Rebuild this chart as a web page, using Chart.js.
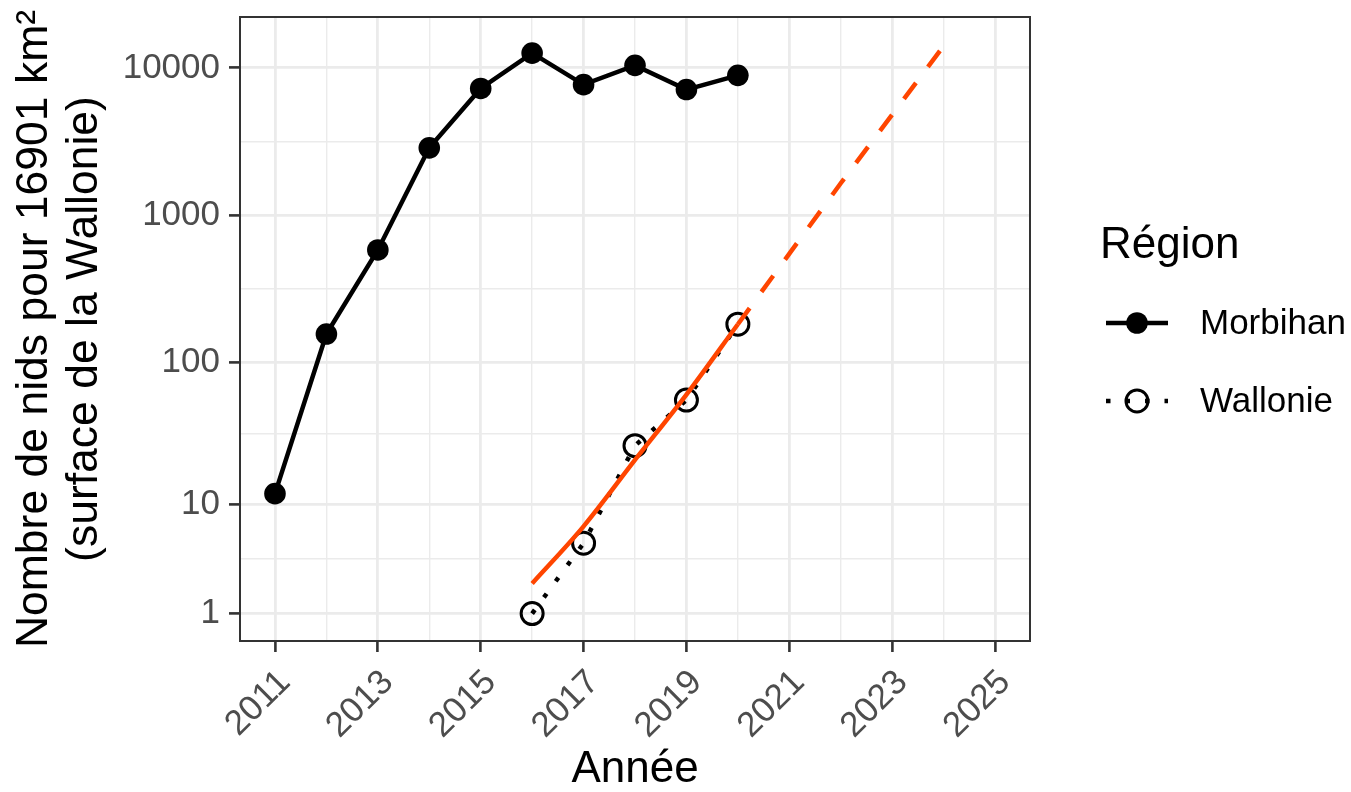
<!DOCTYPE html>
<html>
<head>
<meta charset="utf-8">
<script src="https://cdn.jsdelivr.net/npm/chart.js@4.4.1/dist/chart.umd.min.js"></script>
<style>
  html, body { margin: 0; padding: 0; background: #ffffff; }
  #wrap { width: 1351px; height: 792px; position: relative; }
  canvas { display: block; }
</style>
</head>
<body>
<div id="wrap"><canvas id="chart" width="1351" height="792"></canvas></div>
<script>
// Nests per 16901 km² (area of Wallonia), by year
const morbihanYears = [2011, 2012, 2013, 2014, 2015, 2016, 2017, 2018, 2019, 2020];
const morbihanNests = [12, 156, 582, 2870, 7250, 12600, 7700, 10400, 7130, 8900];

const wallonieYears = [2016, 2017, 2018, 2019, 2020];
const wallonieNests = [1, 5, 26.5, 55, 182];

// Exponential trend fitted on Wallonie, and its projection
const trendYears = [2016, 2017, 2018, 2019, 2020];
const trendNests = [2.2, 6.8, 21, 60, 182];
const projectionYears = [2020, 2022, 2024];
const projectionNests = [182, 1650, 14100];

// Axis breaks
const xMajorYears = [2011, 2013, 2015, 2017, 2019, 2021, 2023, 2025];
const xMinorYears = [2012, 2014, 2016, 2018, 2020, 2022, 2024];
const yBreakValues = [1, 10, 100, 1000, 10000];
const yBreakLabels = ['1', '10', '100', '1000', '10000'];

const seriesNames = ['Morbihan', 'Wallonie'];
const legendTitle = 'Région';
const xTitle = 'Année';
const yTitle = ['Nombre de nids pour 16901 km²', '(surface de la Wallonie)'];

const FONT = '"Liberation Sans", Arial, Helvetica, sans-serif';
const TREND_COLOR = '#FF4500';

// y axis uses a log10(n + 1) transform
const tr = v => Math.log10(v + 1);
const pts = (xs, ys) => xs.map((x, i) => ({ x: x, y: tr(ys[i]) }));

// major breaks plus minor breaks halfway between them (in transformed space)
function yTickObjects() {
  const major = yBreakValues.map((v, i) => ({ value: tr(v), name: yBreakLabels[i], minor: false }));
  const minor = [];
  for (let i = 0; i < major.length - 1; i++) {
    minor.push({ value: (major[i].value + major[i + 1].value) / 2, name: '', minor: true });
  }
  return major.concat(minor).sort((a, b) => a.value - b.value);
}
function xTickObjects() {
  const major = xMajorYears.map(v => ({ value: v, name: String(v), minor: false }));
  const minor = xMinorYears.map(v => ({ value: v, name: '', minor: true }));
  return major.concat(minor).sort((a, b) => a.value - b.value);
}

const isMinor = ctx => !!(ctx.tick && ctx.tick.minor);

// keep the panel at a fixed place: no extra room reserved for edge labels
function fixScale(s, size) {
  if (s.isHorizontal()) { s.height = size; } else { s.width = size; }
  s.paddingTop = 0; s.paddingBottom = 0; s.paddingLeft = 0; s.paddingRight = 0;
}

const panelAndLegend = {
  id: 'panelAndLegend',
  afterDraw(chart) {
    const { ctx, chartArea: a } = chart;
    ctx.save();
    // panel border
    ctx.strokeStyle = '#333333';
    ctx.lineWidth = 2;
    ctx.setLineDash([]);
    ctx.strokeRect(a.left, a.top, a.right - a.left, a.bottom - a.top);

    // legend
    const lx = 1100;
    ctx.fillStyle = '#000000';
    ctx.textAlign = 'left';
    ctx.textBaseline = 'alphabetic';
    ctx.font = '44px ' + FONT;
    ctx.fillText(legendTitle, lx, 258);

    const keyL = 1106, keyR = 1168, keyC = 1137, textX = 1200;
    const rows = [323, 401];

    // Morbihan key: solid line + filled point
    ctx.strokeStyle = '#000000';
    ctx.lineWidth = 4.5;
    ctx.beginPath();
    ctx.moveTo(keyL, rows[0]);
    ctx.lineTo(keyR, rows[0]);
    ctx.stroke();
    ctx.beginPath();
    ctx.arc(keyC, rows[0], 10.8, 0, Math.PI * 2);
    ctx.fill();

    // Wallonie key: dotted line + open point
    ctx.setLineDash([4.5, 15]);
    ctx.beginPath();
    ctx.moveTo(keyL, rows[1]);
    ctx.lineTo(keyR, rows[1]);
    ctx.stroke();
    ctx.setLineDash([]);
    ctx.lineWidth = 3;
    ctx.beginPath();
    ctx.arc(keyC, rows[1], 11, 0, Math.PI * 2);
    ctx.stroke();

    ctx.font = '35px ' + FONT;
    ctx.textBaseline = 'middle';
    ctx.fillText(seriesNames[0], textX, rows[0] + 1);
    ctx.fillText(seriesNames[1], textX, rows[1] + 1);
    ctx.restore();
  }
};

new Chart(document.getElementById('chart'), {
  type: 'line',
  data: {
    datasets: [
      {
        label: 'trend',
        data: pts(trendYears, trendNests),
        borderColor: TREND_COLOR,
        borderWidth: 4.5,
        cubicInterpolationMode: 'monotone',
        pointRadius: 0,
        fill: false,
        order: 0
      },
      {
        label: 'projection',
        data: pts(projectionYears, projectionNests),
        borderColor: TREND_COLOR,
        borderWidth: 4.5,
        borderDash: [20, 20],
        pointRadius: 0,
        fill: false,
        order: 1
      },
      {
        label: seriesNames[1],
        data: pts(wallonieYears, wallonieNests),
        borderColor: '#000000',
        borderWidth: 4.5,
        borderDash: [4.5, 15.5],
        pointRadius: 11,
        pointBorderWidth: 3,
        pointBorderColor: '#000000',
        pointBackgroundColor: 'rgba(0,0,0,0)',
        fill: false,
        order: 2
      },
      {
        label: seriesNames[0],
        data: pts(morbihanYears, morbihanNests),
        borderColor: '#000000',
        borderWidth: 4.5,
        pointRadius: 10.8,
        pointBorderWidth: 0,
        pointBackgroundColor: '#000000',
        fill: false,
        order: 3
      }
    ]
  },
  options: {
    responsive: false,
    animation: false,
    devicePixelRatio: 1,
    layout: { padding: { left: 0, right: 321, top: 17, bottom: 0 } },
    plugins: {
      legend: { display: false },
      tooltip: { enabled: false }
    },
    scales: {
      x: {
        type: 'linear',
        min: 2010.32,
        max: 2025.68,
        afterBuildTicks: s => { s.ticks = xTickObjects(); },
        afterFit: s => fixScale(s, 151),
        border: { display: false },
        grid: {
          color: '#EBEBEB',
          lineWidth: ctx => isMinor(ctx) ? 1.4 : 2.8,
          tickLength: 11,
          tickWidth: 2.6,
          tickColor: ctx => isMinor(ctx) ? 'rgba(0,0,0,0)' : '#333333'
        },
        ticks: {
          autoSkip: false,
          minRotation: 45,
          maxRotation: 45,
          padding: 10,
          labelOffset: 10,
          color: '#4D4D4D',
          font: { family: FONT, size: 35 },
          callback: (v, i, ticks) => ticks[i].name
        },
        title: {
          display: true,
          text: xTitle,
          color: '#000000',
          font: { family: FONT, size: 44, lineHeight: 1 },
          padding: 0
        }
      },
      y: {
        type: 'linear',
        min: 0.115,
        max: 4.345,
        afterBuildTicks: s => { s.ticks = yTickObjects(); },
        afterFit: s => fixScale(s, 240),
        border: { display: false },
        grid: {
          color: '#EBEBEB',
          lineWidth: ctx => isMinor(ctx) ? 1.4 : 2.8,
          tickLength: 11,
          tickWidth: 2.6,
          tickColor: ctx => isMinor(ctx) ? 'rgba(0,0,0,0)' : '#333333'
        },
        ticks: {
          autoSkip: false,
          padding: 9,
          color: '#4D4D4D',
          font: { family: FONT, size: 35 },
          callback: (v, i, ticks) => ticks[i].name
        },
        title: {
          display: true,
          text: yTitle,
          color: '#000000',
          font: { family: FONT, size: 44.5, lineHeight: '50px' },
          padding: { top: 10, bottom: 0 }
        }
      }
    }
  },
  plugins: [panelAndLegend]
});
</script>
</body>
</html>
